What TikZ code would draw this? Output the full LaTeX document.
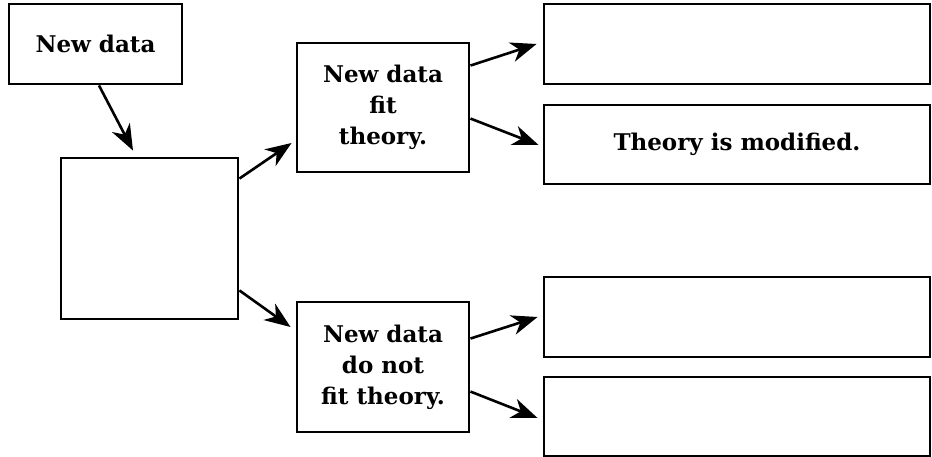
\documentclass[tikz,border=0pt]{standalone}
\usepackage{fontspec}
\setmainfont{DejaVu Serif}
\usetikzlibrary{arrows.meta,calc}

\tikzset{
  box/.style={draw=black, line width=2.9pt, fill=white, inner sep=0pt,
    align=center, font=\bfseries\fontsize{23}{31}\selectfont},
  arr/.style={line width=2.6pt,
    -{Stealth[length=26pt, width=20pt, inset=8pt]}},
}

\begin{document}
\begin{tikzpicture}[x=1pt, y=-1pt]
  \useasboundingbox (0,0) rectangle (932,457);

  % left column
  \node[box, minimum width=173pt, minimum height=80pt] (nd) at (95.5,44) {New data};
  \node[box, minimum width=177pt, minimum height=161pt] (c) at (149.5,238.5) {};

  % middle column
  \node[box, minimum width=172pt, minimum height=129pt] (fit) at (383,107.5)
    {New data\\fit\\theory.};
  \node[box, minimum width=172pt, minimum height=130pt] (nfit) at (383,367)
    {New data\\do not\\fit theory.};

  % right column
  \node[box, minimum width=386pt, minimum height=80pt] (r1) at (737,44) {};
  \node[box, minimum width=386pt, minimum height=79pt] (r2) at (737,144.5)
    {Theory is modified.};
  \node[box, minimum width=386pt, minimum height=80pt] (r3) at (737,317) {};
  \node[box, minimum width=386pt, minimum height=79pt] (r4) at (737,416.5) {};

  % connectors
  \draw[arr] ($(nd.south)+(3.5,0)$) -- ($(c.north)+(-16.5,-6)$);
  \draw[arr] ($(c.north east)+(0,22)$) -- ($(fit.west)+(-4,35.5)$);
  \draw[arr] ($(c.south east)+(0,-30)$) -- ($(nfit.west)+(-5,-40)$);
  \draw[arr] ($(fit.north east)+(0,24)$) -- ($(r1.west)+(-6,0)$);
  \draw[arr] ($(fit.north east)+(0,77)$) -- ($(r2.west)+(-4,0.5)$);
  \draw[arr] ($(nfit.north east)+(0,38)$) -- ($(r3.west)+(-5,0)$);
  \draw[arr] ($(nfit.north east)+(0,91)$) -- ($(r4.west)+(-5,1.5)$);
\end{tikzpicture}
\end{document}
